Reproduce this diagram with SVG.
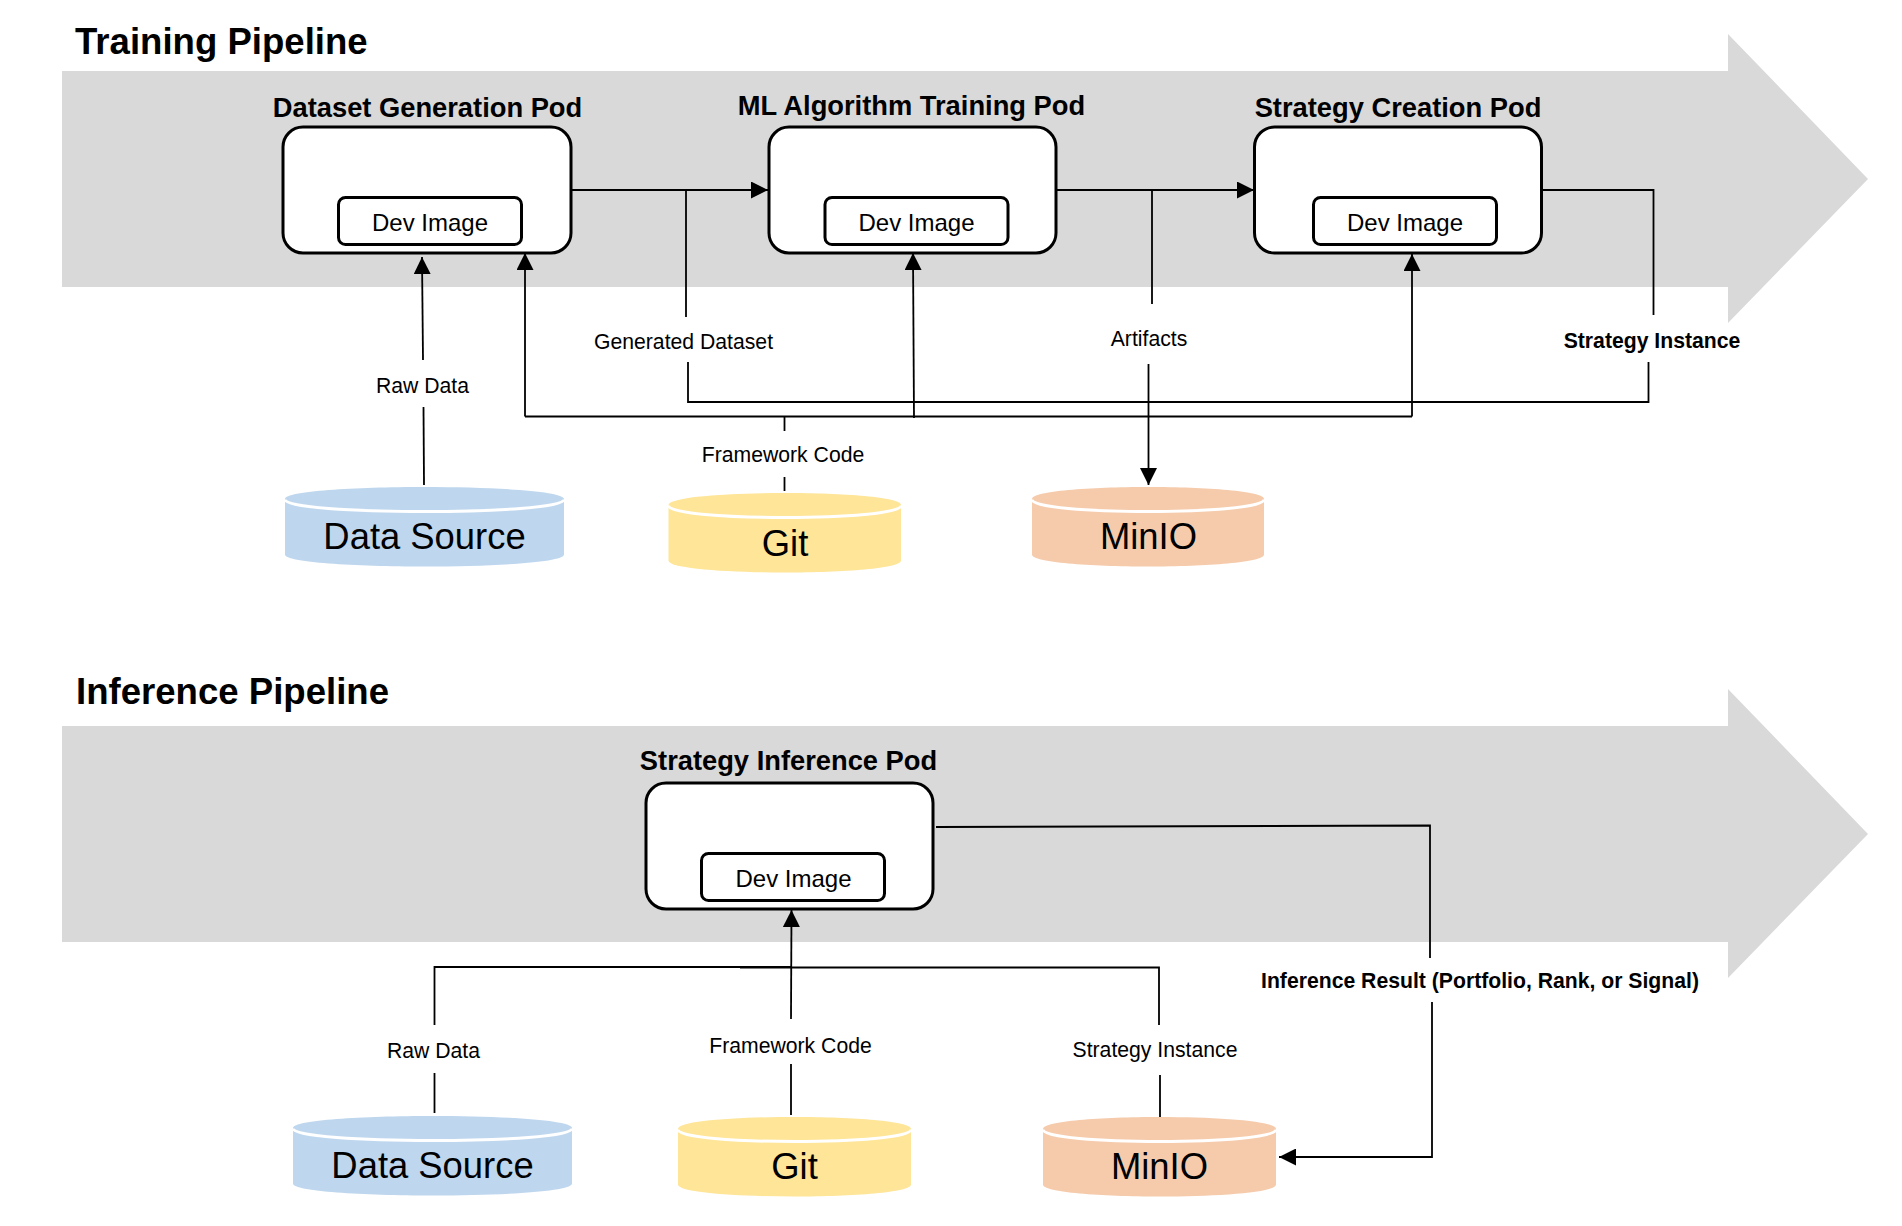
<svg xmlns="http://www.w3.org/2000/svg" width="1902" height="1226" viewBox="0 0 1902 1226">
  <style>
    text { font-family: "Liberation Sans", Arial, sans-serif; fill: #000; text-anchor: middle; }
    .section { font-size: 36.600px; font-weight: bold; text-anchor: start; }
    .pod-title { font-size: 27.300px; font-weight: bold; }
    .image-label { font-size: 24px; }
    .store-label { font-size: 36.400px; }
    .edge-label { font-size: 21.200px; }
    .edge-label.strong { font-weight: bold; }
    .band { fill: #d9d9d9; }
    .pod { fill: #fff; stroke: #000; stroke-width: 3; }
    .line { fill: none; stroke: #000; stroke-width: 1.800; }
    .rim { fill: none; stroke: #fff; stroke-width: 3; }
    .blue { fill: #bfd7ee; } .yellow { fill: #fee598; } .orange { fill: #f5cbac; }
  </style>
  <defs>
    <marker id="head" viewBox="0 0 17 17" refX="17" refY="8.500" markerWidth="17" markerHeight="17" markerUnits="userSpaceOnUse" orient="auto">
      <path d="M0 0L17 8.500L0 17Z" fill="#000"/>
    </marker>
  </defs>
  <rect width="1902" height="1226" fill="#fff"/>

  <g id="training-band">
    <path class="band" d="M62 71H1728V34L1868 179L1728 323V287H62Z"/>
    <text class="section" x="75" y="54">Training Pipeline</text>
  </g>
  <g id="inference-band">
    <path class="band" d="M62 726H1728V689L1868 834L1728 978V942H62Z"/>
    <text class="section" x="76" y="704">Inference Pipeline</text>
  </g>

  <g id="connectors">
    <!-- training: data flow between pods -->
    <path class="line" marker-end="url(#head)" d="M571 190H768"/>
    <path class="line" marker-end="url(#head)" d="M1056 190H1254"/>
    <path class="line" d="M686 190V317"/>
    <path class="line" d="M688 362V402H1648.500V362"/>
    <path class="line" d="M1542 190H1653.500V315"/>
    <path class="line" d="M1152 190V304"/>
    <path class="line" marker-end="url(#head)" d="M1148.500 364V485"/>
    <!-- training: inputs -->
    <path class="line" d="M424 485L423.500 407"/>
    <path class="line" marker-end="url(#head)" d="M423 360L422 257"/>
    <path class="line" d="M784.500 491V477"/>
    <path class="line" d="M784.500 431V416.500"/>
    <path class="line" marker-end="url(#head)" d="M525 416.500V253"/>
    <path class="line" d="M525 416.500H1412"/>
    <path class="line" marker-end="url(#head)" d="M1412 416.500V254"/>
    <path class="line" marker-end="url(#head)" d="M914 418L913 253"/>
    <!-- inference: inputs -->
    <path class="line" d="M434.500 1113V1073"/>
    <path class="line" d="M434.500 1025V967H791"/>
    <path class="line" d="M1159 1025V967.500H740"/>
    <path class="line" d="M1160 1075V1117"/>
    <path class="line" d="M791 1115V1064"/>
    <path class="line" marker-end="url(#head)" d="M791 1019L791.500 910"/>
    <!-- inference: result written back to storage -->
    <path class="line" d="M936 827L1430 825.500V958"/>
    <path class="line" marker-end="url(#head)" d="M1432 1002V1157H1279"/>
  </g>

  <g id="dataset-generation-pod">
    <text class="pod-title" x="427.500" y="117">Dataset Generation Pod</text>
    <rect class="pod" x="283" y="127" width="288" height="126" rx="20"/>
    <rect class="pod" x="338.500" y="197.500" width="183" height="47" rx="7"/>
    <text class="image-label" x="430" y="231">Dev Image</text>
  </g>
  <g id="ml-training-pod">
    <text class="pod-title" x="911.500" y="115">ML Algorithm Training Pod</text>
    <rect class="pod" x="769" y="127" width="287" height="126" rx="20"/>
    <rect class="pod" x="825" y="197.500" width="183" height="47" rx="7"/>
    <text class="image-label" x="916.500" y="231">Dev Image</text>
  </g>
  <g id="strategy-creation-pod">
    <text class="pod-title" x="1398" y="117">Strategy Creation Pod</text>
    <rect class="pod" x="1254.500" y="127" width="287" height="126" rx="20"/>
    <rect class="pod" x="1313.500" y="197.500" width="183" height="47" rx="7"/>
    <text class="image-label" x="1405" y="231">Dev Image</text>
  </g>
  <g id="strategy-inference-pod">
    <text class="pod-title" x="788.500" y="770">Strategy Inference Pod</text>
    <rect class="pod" x="646" y="783" width="287" height="126" rx="20"/>
    <rect class="pod" x="701.500" y="853.500" width="183" height="47" rx="7"/>
    <text class="image-label" x="793.500" y="887">Dev Image</text>
  </g>

  <g id="training-data-source">
    <path class="blue" d="M285 499C285 483 564 483 564 499V554.500C564 570.500 285 570.500 285 554.500Z"/>
    <path class="rim" d="M285 499.500C285 515.500 564 515.500 564 499.500"/>
    <text class="store-label" x="424.500" y="549">Data Source</text>
  </g>
  <g id="training-git">
    <path class="yellow" d="M668.500 505C668.500 489 901 489 901 505V560.500C901 576.500 668.500 576.500 668.500 560.500Z"/>
    <path class="rim" d="M668.500 505.500C668.500 521.500 901 521.500 901 505.500"/>
    <text class="store-label" x="785" y="556">Git</text>
  </g>
  <g id="training-minio">
    <path class="orange" d="M1032 499C1032 483 1264 483 1264 499V554.500C1264 570.500 1032 570.500 1032 554.500Z"/>
    <path class="rim" d="M1032 499.500C1032 515.500 1264 515.500 1264 499.500"/>
    <text class="store-label" x="1148.500" y="549">MinIO</text>
  </g>
  <g id="inference-data-source">
    <path class="blue" d="M293 1128C293 1112 572 1112 572 1128V1183.500C572 1199.500 293 1199.500 293 1183.500Z"/>
    <path class="rim" d="M293 1128.500C293 1144.500 572 1144.500 572 1128.500"/>
    <text class="store-label" x="432.500" y="1178">Data Source</text>
  </g>
  <g id="inference-git">
    <path class="yellow" d="M678 1129C678 1113 911 1113 911 1129V1184.500C911 1200.500 678 1200.500 678 1184.500Z"/>
    <path class="rim" d="M678 1129.500C678 1145.500 911 1145.500 911 1129.500"/>
    <text class="store-label" x="794.500" y="1179">Git</text>
  </g>
  <g id="inference-minio">
    <path class="orange" d="M1043 1129C1043 1113 1276 1113 1276 1129V1184.500C1276 1200.500 1043 1200.500 1043 1184.500Z"/>
    <path class="rim" d="M1043 1129.500C1043 1145.500 1276 1145.500 1276 1129.500"/>
    <text class="store-label" x="1159.500" y="1179">MinIO</text>
  </g>

  <g id="connector-labels">
    <text class="edge-label" x="422.500" y="393">Raw Data</text>
    <text class="edge-label" x="683.500" y="349">Generated Dataset</text>
    <text class="edge-label" x="1149" y="346">Artifacts</text>
    <text class="edge-label" x="783" y="462">Framework Code</text>
    <text class="edge-label strong" x="1652" y="348">Strategy Instance</text>
    <text class="edge-label" x="433.500" y="1058">Raw Data</text>
    <text class="edge-label" x="790.500" y="1053">Framework Code</text>
    <text class="edge-label" x="1155" y="1056.500">Strategy Instance</text>
    <text class="edge-label strong" x="1480" y="988">Inference Result (Portfolio, Rank, or Signal)</text>
  </g>
</svg>
